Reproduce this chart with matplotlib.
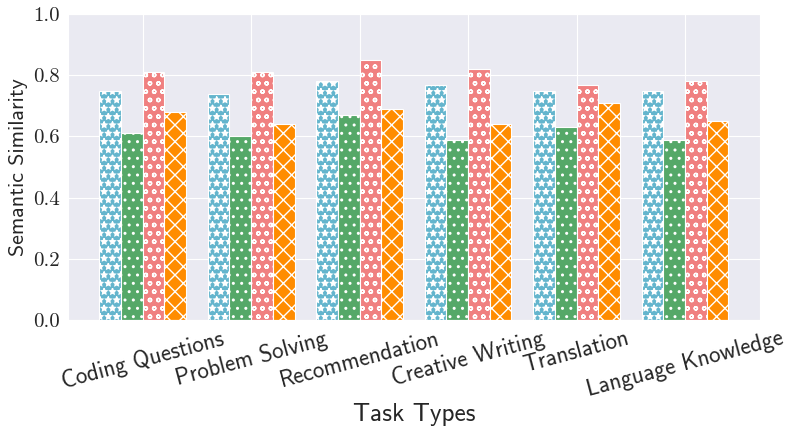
import numpy as np
import matplotlib
matplotlib.use("Agg")
import matplotlib.pyplot as plt
import seaborn as sns

# Task categories and similarity scores per method
tasks = ["Coding Questions", "Problem Solving", "Recommendation",
         "Creative Writing", "Translation", "Language Knowledge"]
series_a = [0.75, 0.74, 0.78, 0.77, 0.75, 0.75]
series_b = [0.61, 0.60, 0.67, 0.59, 0.63, 0.59]
series_c = [0.81, 0.81, 0.85, 0.82, 0.77, 0.78]
series_d = [0.68, 0.64, 0.69, 0.64, 0.71, 0.65]
yticks = [0.0, 0.2, 0.4, 0.6, 0.8, 1.0]

sns.set_style("darkgrid")
plt.rcParams["font.family"] = ["cmss10", "DejaVu Sans"]
plt.rcParams["axes.unicode_minus"] = False
plt.rcParams["hatch.color"] = "white"
plt.rcParams["hatch.linewidth"] = 1.0

colors = ["#64B5CD", "#55A868", "#F08080", "#FF8C00"]
hatches = ["**", "..", "oo", "xx"]
all_series = [series_a, series_b, series_c, series_d]

fig, ax = plt.subplots(figsize=(7.89, 4.30), dpi=100)
x = np.arange(len(tasks))
w = 0.2
for i, vals in enumerate(all_series):
    ax.bar(x + (i - 1.5) * w, vals, width=w, color=colors[i],
           edgecolor="white", linewidth=0.8, hatch=hatches[i])

ax.set_ylim(0, 1.0)
ax.set_yticks(yticks)
ax.set_yticklabels([f"{v:.1f}" for v in yticks], fontfamily="cmr10", fontsize=15)
ax.set_xticks(x)
ax.set_xticklabels(tasks, rotation=15, ha="center", fontsize=16.5)
ax.tick_params(axis="both", pad=2)
ax.set_xlabel("Task Types", fontsize=18.2, labelpad=1)
ax.set_ylabel("Semantic Similarity", fontsize=15.8, labelpad=4)

plt.subplots_adjust(left=0.086, right=0.963, top=0.967, bottom=0.256)
plt.savefig("out.png", dpi=100)
plt.close()
print("Saved out.png")
